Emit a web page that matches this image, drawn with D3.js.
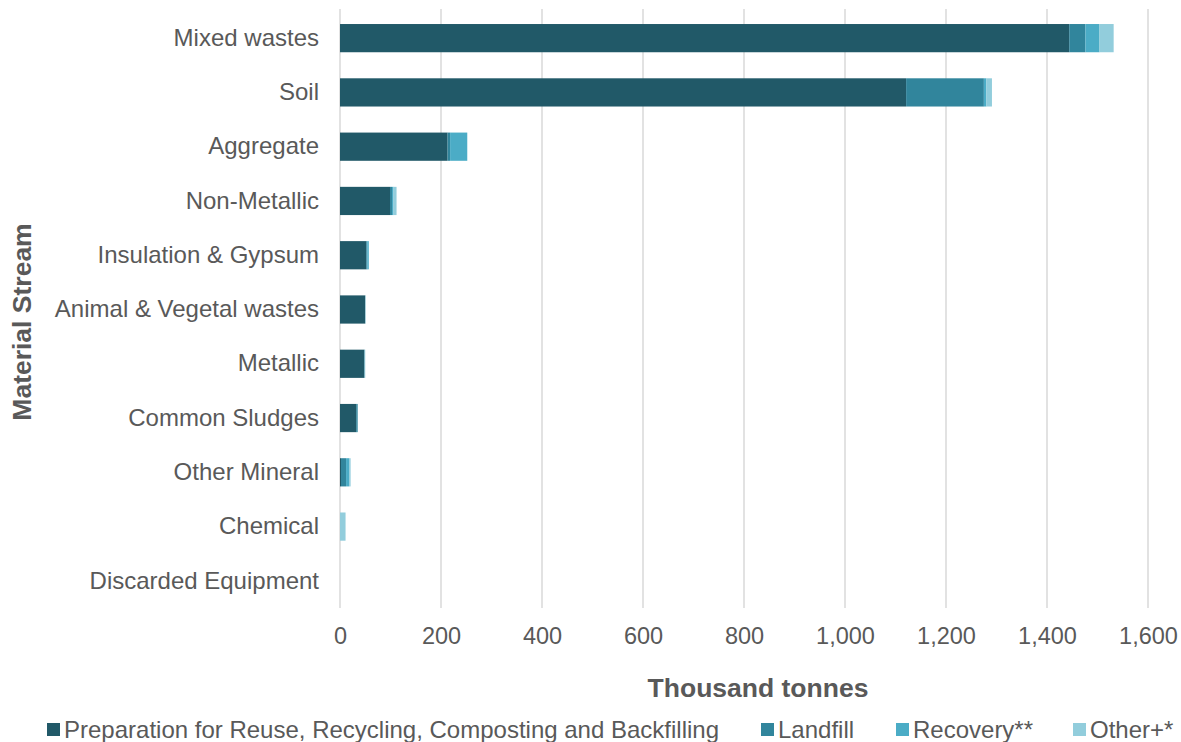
<!DOCTYPE html>
<html>
<head>
<meta charset="utf-8">
<script src="https://cdn.jsdelivr.net/npm/d3@7"></script>
<style>
  html, body { margin: 0; padding: 0; background: #fff; }
  svg { display: block; font-family: "Liberation Sans", Arial, sans-serif; }
</style>
</head>
<body>
<svg id="chart" width="1181" height="742"></svg>
<script>
// Material streams, top to bottom
const categories = [
  "Mixed wastes", "Soil", "Aggregate", "Non-Metallic", "Insulation & Gypsum",
  "Animal & Vegetal wastes", "Metallic", "Common Sludges", "Other Mineral",
  "Chemical", "Discarded Equipment"
];

// Thousand tonnes by treatment route
const preparation = [1444, 1121, 213, 99, 52, 50, 48, 32, 2, 0, 0];
const landfill    = [32, 154, 5, 4, 2, 0, 1, 3, 10, 0, 0];
const recovery    = [28, 5, 34, 3, 3, 0, 0, 0, 6, 0, 0];
const other       = [28, 11, 0, 6, 0, 1, 1, 0, 3, 11, 0];

const seriesNames = [
  "Preparation for Reuse, Recycling, Composting and Backfilling",
  "Landfill", "Recovery**", "Other+*"
];
const seriesColors = ["#215968", "#31859C", "#4BACC6", "#92CDDC"];
const xTicks = [0, 200, 400, 600, 800, 1000, 1200, 1400, 1600];

const rows = categories.map((c, i) => ({
  category: c,
  s0: preparation[i], s1: landfill[i], s2: recovery[i], s3: other[i]
}));
const keys = ["s0", "s1", "s2", "s3"];
const stacked = d3.stack().keys(keys)(rows);

const svg = d3.select("#chart");
const margin = { left: 340, right: 33, top: 11, bottom: 134 };
const W = 1181, H = 742;
const textColor = "#595959";

const x = d3.scaleLinear().domain([0, 1600]).range([margin.left, W - margin.right]);
const y = d3.scaleBand().domain(categories).range([margin.top, H - margin.bottom]).paddingInner(0.48).paddingOuter(0.24);

// vertical gridlines
svg.append("g").selectAll("line").data(xTicks).join("line")
  .attr("x1", d => x(d)).attr("x2", d => x(d))
  .attr("y1", margin.top - 2).attr("y2", H - margin.bottom)
  .attr("stroke", "#d9d9d9").attr("stroke-width", 1.5);

// stacked bars
svg.append("g").selectAll("g").data(stacked).join("g")
  .attr("fill", (d, i) => seriesColors[i])
  .selectAll("rect").data(d => d).join("rect")
  .attr("x", d => x(d[0]))
  .attr("width", d => Math.max(0, x(d[1]) - x(d[0])))
  .attr("y", d => y(d.data.category))
  .attr("height", y.bandwidth());

// x tick labels
const xAxis = d3.axisBottom(x).tickValues(xTicks).tickFormat(d3.format(",")).tickSize(0).tickPadding(0);
const gx = svg.append("g").attr("transform", `translate(0,${H - margin.bottom + 19})`).call(xAxis);
gx.select(".domain").remove();
gx.selectAll("text").attr("font-size", 23.5).attr("fill", textColor)
  .attr("font-family", "Liberation Sans, Arial, sans-serif");

// category labels
const yAxis = d3.axisLeft(y).tickSize(0).tickPadding(0);
const gy = svg.append("g").attr("transform", `translate(${margin.left - 21},0)`).call(yAxis);
gy.select(".domain").remove();
gy.selectAll("text").attr("font-size", 24).attr("fill", textColor)
  .attr("font-family", "Liberation Sans, Arial, sans-serif");

// axis titles
svg.append("text").attr("x", 758).attr("y", 697)
  .attr("text-anchor", "middle").attr("font-size", 26.5).attr("font-weight", "bold")
  .attr("fill", textColor).text("Thousand tonnes");
svg.append("text").attr("transform", "translate(31,322) rotate(-90)")
  .attr("text-anchor", "middle").attr("font-size", 26.5).attr("font-weight", "bold")
  .attr("fill", textColor).text("Material Stream");

// legend
const legendX = [47, 761, 896, 1073];
const lg = svg.append("g").selectAll("g").data(seriesNames).join("g")
  .attr("transform", (d, i) => `translate(${legendX[i]},722)`);
lg.append("rect").attr("width", 13).attr("height", 13).attr("y", 1)
  .attr("fill", (d, i) => seriesColors[i]);
lg.append("text").attr("x", 17).attr("y", 15.5).attr("font-size", 24)
  .attr("fill", textColor).text(d => d);
</script>
</body>
</html>
